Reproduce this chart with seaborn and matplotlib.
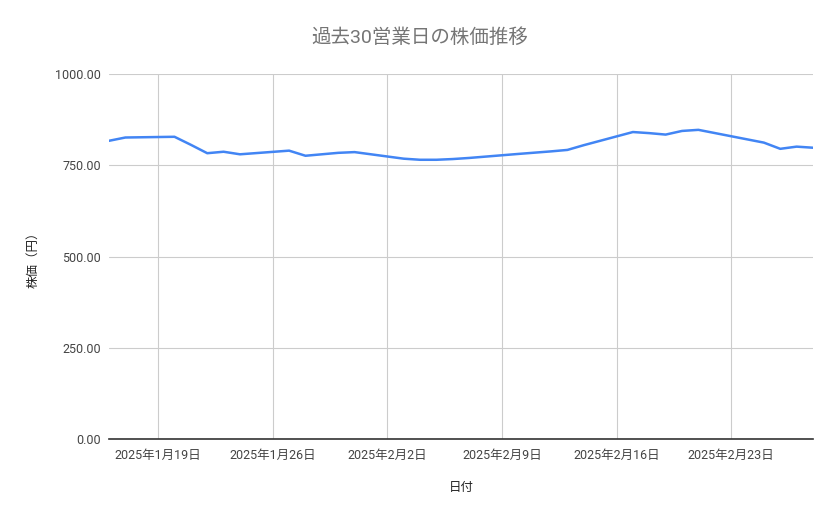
import pandas as pd
import matplotlib
matplotlib.use("Agg")
import matplotlib.pyplot as plt
import seaborn as sns

# 30 business days (weekends, 2/11 and 2/24 holidays skipped)
dates = [
    "2025-01-16", "2025-01-17", "2025-01-20", "2025-01-21", "2025-01-22",
    "2025-01-23", "2025-01-24", "2025-01-27", "2025-01-28", "2025-01-29",
    "2025-01-30", "2025-01-31", "2025-02-03", "2025-02-04", "2025-02-05",
    "2025-02-06", "2025-02-07", "2025-02-10", "2025-02-12", "2025-02-13",
    "2025-02-14", "2025-02-17", "2025-02-18", "2025-02-19", "2025-02-20",
    "2025-02-21", "2025-02-25", "2025-02-26", "2025-02-27", "2025-02-28",
]
prices = [
    817, 826, 828, 806, 783,
    787, 780, 790, 776, 780,
    784, 786, 768, 765, 765,
    767, 770, 781, 788, 792,
    805, 841, 838, 834, 844,
    847, 812, 795, 801, 798,
]
tick_dates = ["2025-01-19", "2025-01-26", "2025-02-02", "2025-02-09", "2025-02-16", "2025-02-23"]
tick_labels = ["2025年1月19日", "2025年1月26日", "2025年2月2日", "2025年2月9日", "2025年2月16日", "2025年2月23日"]
y_ticks = [0, 250, 500, 750, 1000]

title = "過去30営業日の株価推移"
x_label = "日付"
y_label = "株価（円）"

sns.set_theme(style="white")
plt.rcParams["font.family"] = ["Roboto", "Noto Sans CJK JP", "DejaVu Sans"]

df = pd.DataFrame({"date": pd.to_datetime(dates), "price": prices})

fig = plt.figure(figsize=(8.39, 5.19), dpi=100)
ax = fig.add_axes([109 / 839, 80 / 519, 704 / 839, 365 / 519])

sns.lineplot(data=df, x="date", y="price", ax=ax, color="#4285f4", linewidth=1.8)

ax.set_xlim(pd.Timestamp("2025-01-16"), pd.Timestamp("2025-02-28"))
ax.set_ylim(0, 1000)
ax.set_xticks(pd.to_datetime(tick_dates))
ax.set_xticklabels(tick_labels)
ax.set_yticks(y_ticks)
ax.set_yticklabels([f"{v:.2f}" for v in y_ticks])

ax.grid(True, color="#cccccc", linewidth=0.8)
ax.set_axisbelow(True)
for side in ("top", "right", "left"):
    ax.spines[side].set_visible(False)
ax.spines["bottom"].set_color("#333333")
ax.spines["bottom"].set_linewidth(1.2)

ax.tick_params(axis="both", length=0, labelsize=9, colors="#444444")
ax.tick_params(axis="x", pad=7)
ax.tick_params(axis="y", pad=6)

ax.set_xlabel(x_label, fontsize=9, color="#222222", labelpad=14)
ax.set_ylabel(y_label, fontsize=9, color="#222222", labelpad=11)

fig.text(0.5, 1 - 38 / 519, title, ha="center", va="center", fontsize=14, color="#757575")

fig.savefig("out.png", dpi=100)
